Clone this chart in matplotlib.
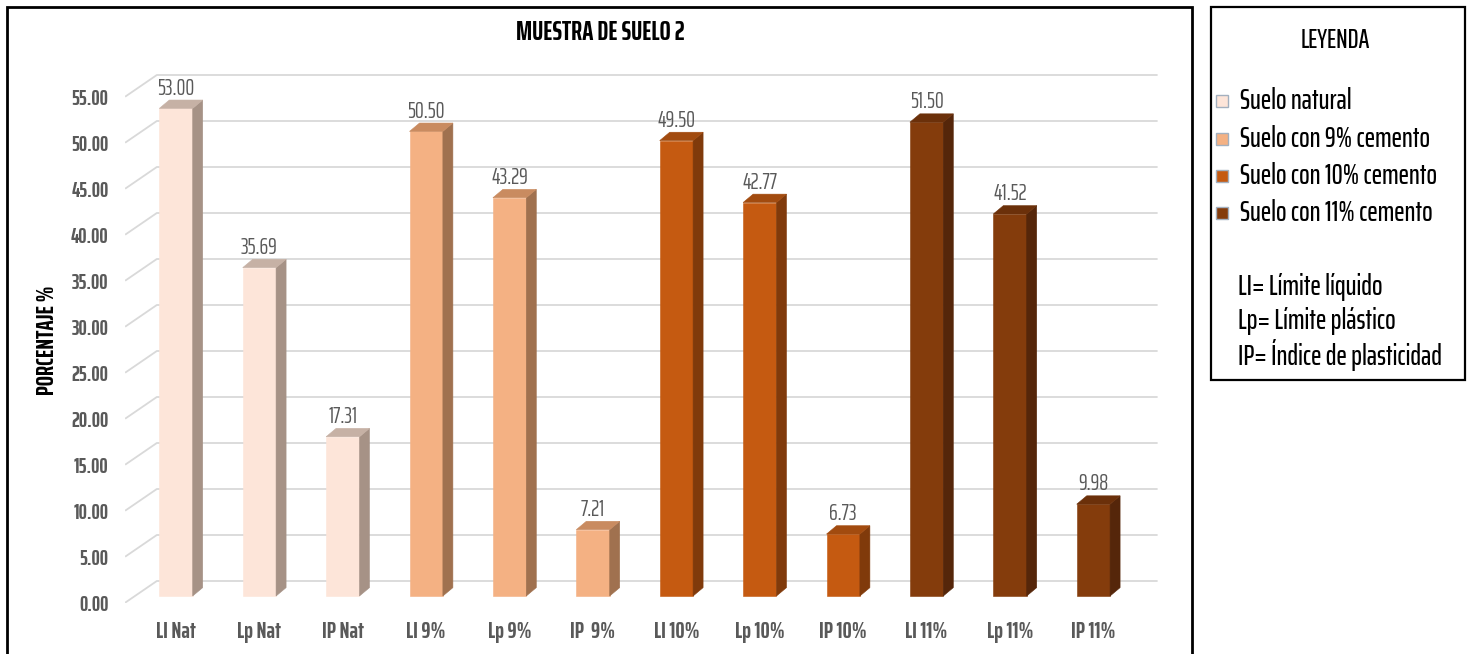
import matplotlib
matplotlib.use('Agg')
import matplotlib.pyplot as plt
from matplotlib import font_manager as fm
from matplotlib.patches import Polygon, Rectangle
import numpy as np

# ---------------- data ----------------
categories = ['LI Nat', 'Lp Nat', 'IP Nat', 'LI 9%', 'Lp 9%', 'IP  9%',
              'LI 10%', 'Lp 10%', 'IP 10%', 'LI 11%', 'Lp 11%', 'IP 11%']
values = [53.00, 35.69, 17.31, 50.50, 43.29, 7.21,
          49.50, 42.77, 6.73, 51.50, 41.52, 9.98]
groups = [0, 0, 0, 1, 1, 1, 2, 2, 2, 3, 3, 3]
group_names = ['Suelo natural', 'Suelo con 9% cemento',
               'Suelo con 10% cemento', 'Suelo con 11% cemento']
yticks = np.arange(0, 55.01, 5)
notes = ['LI= Límite líquido', 'Lp= Límite plástico', 'IP= Índice de plasticidad']
title = 'MUESTRA DE SUELO 2'
ylabel = 'PORCENTAJE %'
legend_title = 'LEYENDA'

# ---------------- style ----------------
front_colors = ['#FDE5D9', '#F4B183', '#C55A11', '#843C0C']
side_colors = ['#A69286', '#A0714F', '#803A0B', '#55260A']
top_colors = ['#C6B1A5', '#C98B60', '#A24B0F', '#6B300A']

names = {f.name for f in fm.fontManager.ttflist}
FAM = 'DejaVu Sans'
for cand in ['Saira ExtraCondensed', 'Saira Extra Condensed', 'Pathway Gothic One',
             'Roboto Condensed', 'IBM Plex Sans Condensed']:
    if cand in names:
        FAM = cand
        break
FONT = dict(family=FAM)

W, H = 1471, 654
fig = plt.figure(figsize=(W / 100, H / 100), dpi=100)
fig.patch.set_facecolor('white')

# pixel geometry of the plot area
x0px, dxpx = 176.0, 83.4
y0px, ppu = 596.0, 9.2
xlim = (-0.61, 11.9)
ylim = (-0.73, 60)
lpx = x0px + xlim[0] * dxpx
rpx = x0px + xlim[1] * dxpx
bpx = y0px - ylim[0] * ppu
tpx = y0px - ylim[1] * ppu
ax = fig.add_axes([lpx / W, (H - bpx) / H, (rpx - lpx) / W, (bpx - tpx) / H])
ax.set_xlim(*xlim)
ax.set_ylim(*ylim)
for s in ax.spines.values():
    s.set_visible(False)
ax.set_facecolor('none')

# 3D offsets (in data units)
fx, fy = -0.11, -0.73   # front edge of floor relative to bar front plane
bx, by = 0.27, 1.63     # back wall relative to bar front plane
ddx, ddy = 0.12, 0.91   # bar depth
bw = 0.40

# gridlines (front diagonal + back wall)
for v in yticks:
    ax.plot([-0.5 + fx, -0.5 + bx, 11.5 + bx], [v + fy, v + by, v + by],
            color='#D9D9D9', lw=1.3, zorder=1, solid_capstyle='butt')

x = np.arange(len(categories))
fc = [front_colors[g] for g in groups]
ax.bar(x, values, width=bw, color=fc, edgecolor=fc, linewidth=0.4, zorder=3)
for xi, v, g in zip(x, values, groups):
    r = xi + bw / 2
    l = xi - bw / 2
    ax.add_patch(Polygon([(r, 0), (r + ddx, ddy), (r + ddx, v + ddy), (r, v)],
                         closed=True, facecolor=side_colors[g], edgecolor=side_colors[g],
                         lw=0.4, zorder=3))
    ax.add_patch(Polygon([(l, v), (r, v), (r + ddx, v + ddy), (l + ddx, v + ddy)],
                         closed=True, facecolor=top_colors[g], edgecolor=top_colors[g],
                         lw=0.4, zorder=3))
    ax.text(xi, v + 2.2, f'{v:.2f}', ha='center', va='center', fontsize=16,
            color='#595959', zorder=4, **FONT)

ax.set_yticks(yticks + fy)
ax.set_yticklabels([f'{v:.2f}' for v in yticks])
ax.set_xticks(x)
ax.set_xticklabels(categories)
ax.tick_params(axis='y', length=0, pad=12, labelsize=15, labelcolor='#595959')
ax.tick_params(axis='x', length=0, pad=13, labelsize=16.5, labelcolor='#595959')
for lab in ax.get_yticklabels() + ax.get_xticklabels():
    lab.set_fontweight('bold')
    lab.set_family(FAM)

# title and y label
fig.text(600 / W, 1 - 33 / H, title, ha='center', va='center', fontsize=19,
         fontweight='bold', color='black', **FONT)
fig.text(47 / W, 1 - 340 / H, ylabel, ha='center', va='center', rotation=90,
         fontsize=17.5, fontweight='bold', color='black', **FONT)

# chart frame
fig.add_artist(Rectangle((7 / W, -0.05), (1192 - 7) / W, 1 - 7 / H + 0.05,
                         transform=fig.transFigure, fill=False, edgecolor='black', lw=2))

# legend box
fig.add_artist(Rectangle((1211 / W, 1 - 380 / H), (1465 - 1211) / W, (380 - 7) / H,
                         transform=fig.transFigure, fill=False, edgecolor='black', lw=1.6))
fig.text(1335 / W, 1 - 40 / H, legend_title, ha='center', va='center', fontsize=19,
         fontweight='medium', color='black', **FONT)
ly = [101, 139, 176, 213]
for name, col, yy in zip(group_names, front_colors, ly):
    fig.add_artist(Rectangle(((1222 - 6) / W, 1 - (yy + 6) / H), 12 / W, 12 / H,
                             transform=fig.transFigure, facecolor=col,
                             edgecolor='#A3B0BF', lw=1))
    fig.text(1240 / W, 1 - yy / H, name, ha='left', va='center', fontsize=20,
             fontweight='medium', color='black', **FONT)
for t, yy in zip(notes, [287, 321, 355]):
    fig.text(1238 / W, 1 - yy / H, t, ha='left', va='center', fontsize=20,
             fontweight='medium', color='black', **FONT)

fig.savefig('out.png', dpi=100, facecolor='white')
